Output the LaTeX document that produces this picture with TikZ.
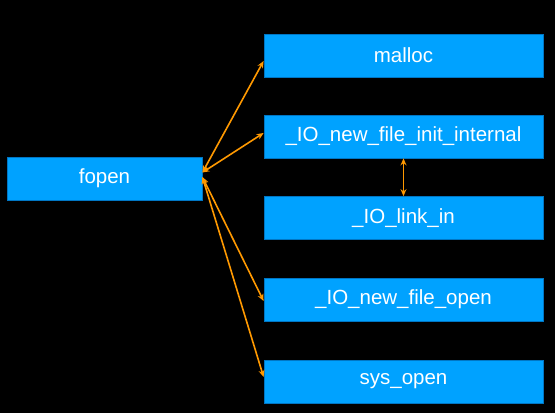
\documentclass[tikz,border=0pt]{standalone}
\usepackage{fontspec}
\setmainfont{Liberation Sans}
\usetikzlibrary{arrows.meta}
\definecolor{boxblue}{RGB}{0,162,255}
\definecolor{boxline}{RGB}{0,118,196}
\definecolor{arrorange}{RGB}{255,153,0}
\begin{document}
\begin{tikzpicture}[x=1pt,y=-1pt,
    box/.style={draw=boxline,line width=0.8pt,fill=boxblue,text=white,minimum height=43pt,inner sep=0pt,
                font=\fontsize{20.5}{24}\selectfont},
    conn/.style={draw=arrorange,line width=1.6pt,{Stealth[length=7pt,width=6pt]}-{Stealth[length=7pt,width=6pt]}}]
    \fill[black] (0,0) rectangle (555,413);
    \node[box,minimum width=195pt] (fopen) at (104.5,178.5) {fopen};
    \foreach \name/\y/\txt in {malloc/55.5/malloc,
                               init/136.5/\_IO\_new\_file\_init\_internal,
                               linkin/218/\_IO\_link\_in,
                               newopen/299.5/\_IO\_new\_file\_open,
                               sysopen/381.5/sys\_open}{
        \node[box,minimum width=279pt] (\name) at (403.5,\y) {\txt};
    }
    \draw[conn] ([yshift=6pt]fopen.east) -- ([yshift=-5.5pt]malloc.west);
    \draw[conn] ([yshift=6pt]fopen.east) -- ([yshift=3.5pt]init.west);
    \draw[conn] ([yshift=1.5pt]fopen.east) -- ([yshift=-1.5pt]newopen.west);
    \draw[conn] ([yshift=1.5pt]fopen.east) -- ([yshift=4.5pt]sysopen.west);
    \draw[conn] (init.south) -- (linkin.north);
\end{tikzpicture}
\end{document}
